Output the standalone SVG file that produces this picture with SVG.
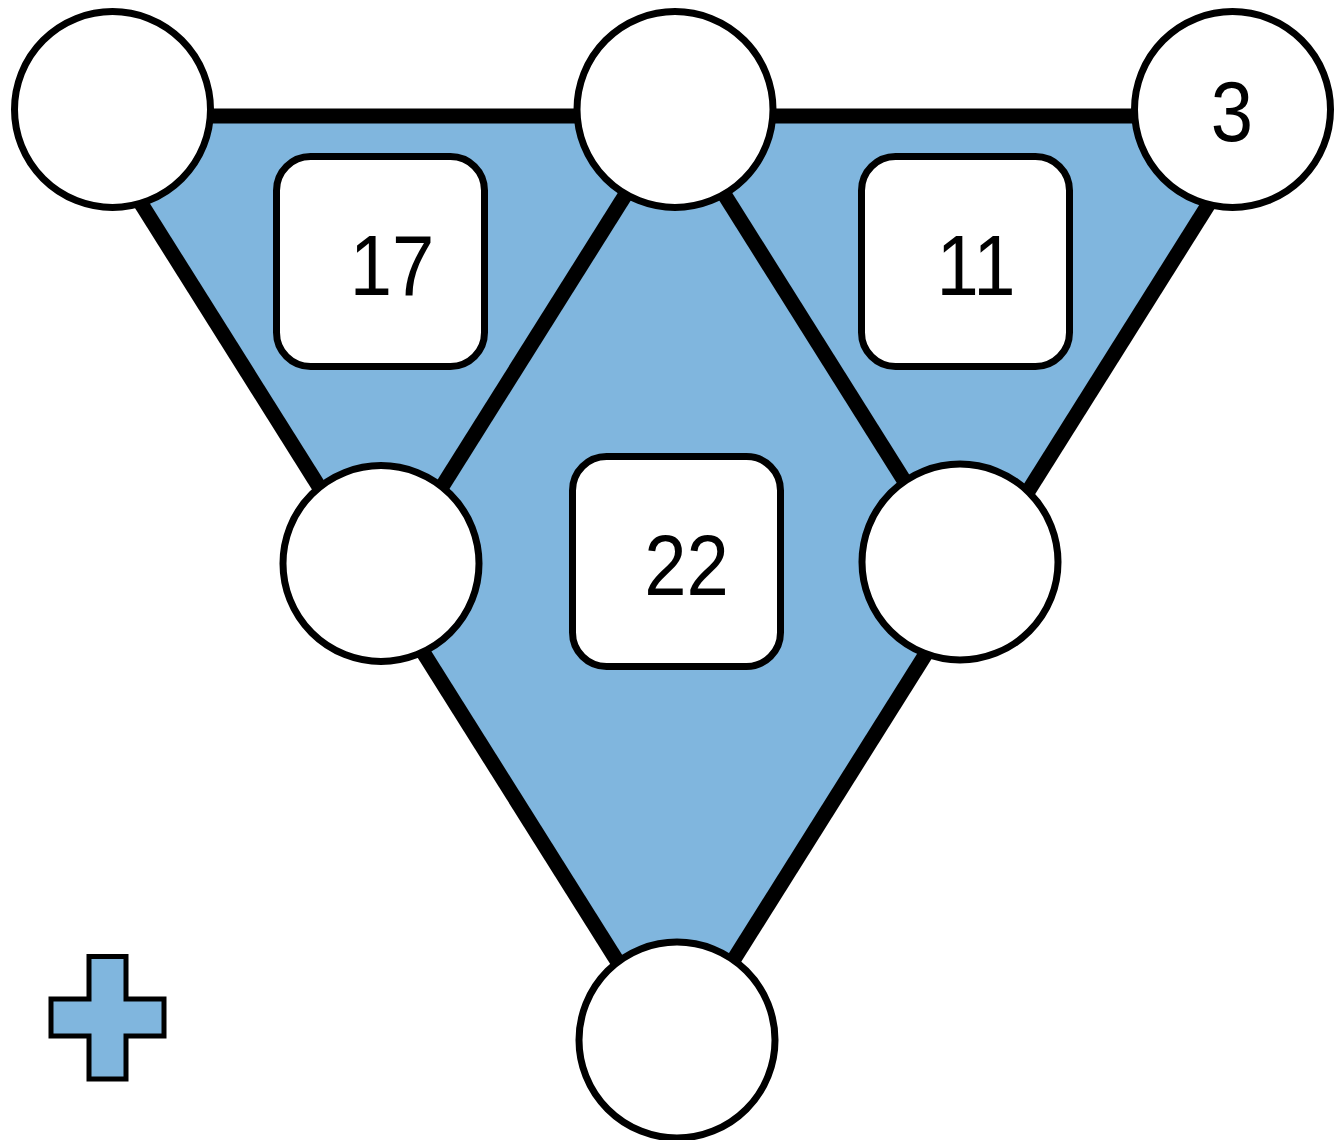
<svg xmlns="http://www.w3.org/2000/svg" width="1340" height="1140" viewBox="0 0 1340 1140">
<style>
.fill{fill:#80B6DE;stroke:none}
.edge{stroke:#000;stroke-width:15;fill:none;stroke-linecap:butt}
.node{fill:#fff;stroke:#000;stroke-width:7}
.box{fill:#fff;stroke:#000;stroke-width:7}
.lbl{font-family:"Liberation Sans",Arial,sans-serif;font-size:76px;fill:#000;text-anchor:middle}
.plus{fill:#80B6DE;stroke:#000;stroke-width:5}
</style>
<rect width="1340" height="1140" fill="#fff"/>
<polygon class="fill" points="86,116 1264,116 675,1053"/>
<g id="connectors">
<line class="edge" x1="86" y1="116" x2="675" y2="116"/>
<line class="edge" x1="675" y1="116" x2="1264" y2="116"/>
<line class="edge" x1="86" y1="116" x2="380.5" y2="584.5"/>
<line class="edge" x1="380.5" y1="584.5" x2="675" y2="1053"/>
<line class="edge" x1="1264" y1="116" x2="969.5" y2="584.5"/>
<line class="edge" x1="969.5" y1="584.5" x2="675" y2="1053"/>
<line class="edge" x1="675" y1="116" x2="380.5" y2="584.5"/>
<line class="edge" x1="675" y1="116" x2="969.5" y2="584.5"/>
</g>
<g id="box17"><rect class="box" x="276.5" y="156.5" width="208" height="210" rx="34"/><text class="lbl" transform="translate(392,295) scale(1,1.13)">17</text></g>
<g id="box11"><rect class="box" x="861.5" y="156.5" width="208" height="210" rx="34"/><text class="lbl" transform="translate(976,295) scale(1,1.13)">11</text></g>
<g id="box22"><rect class="box" x="572.5" y="456.5" width="208" height="210" rx="34"/><text class="lbl" transform="translate(686.5,595) scale(1,1.13)">22</text></g>
<g id="nodeTL"><circle class="node" cx="112.5" cy="109.5" r="98"/></g>
<g id="nodeTM"><circle class="node" cx="675" cy="109.5" r="98"/></g>
<g id="nodeTR"><circle class="node" cx="1232.5" cy="109.5" r="98"/><text class="lbl" transform="translate(1232,141) scale(1,1.13)">3</text></g>
<g id="nodeML"><circle class="node" cx="381" cy="563.5" r="98"/></g>
<g id="nodeMR"><circle class="node" cx="960" cy="562" r="98"/></g>
<g id="nodeB"><circle class="node" cx="677" cy="1040" r="98"/></g>
<g id="plus"><polygon class="plus" points="89,956.5 126,956.5 126,999 164,999 164,1036 126,1036 126,1079 89,1079 89,1036 51,1036 51,999 89,999"/></g>
</svg>
